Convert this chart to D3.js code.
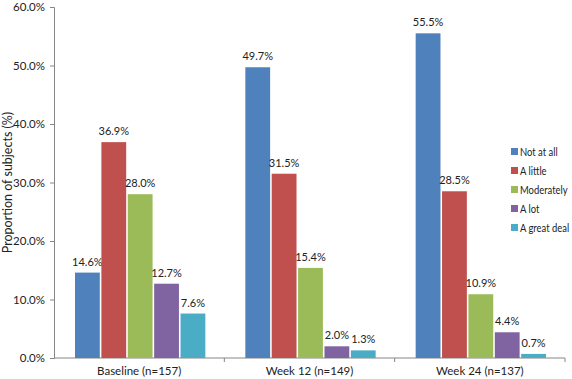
<!DOCTYPE html>
<html>
<head>
<meta charset="utf-8">
<script src="https://cdn.jsdelivr.net/npm/d3@7"></script>
<style>
  body { margin: 0; background: #fff; }
  text { font-family: Lato, "Liberation Sans", sans-serif; fill: #222; }
</style>
</head>
<body>
<script>
const groups = ["Baseline (n=157)", "Week 12 (n=149)", "Week 24 (n=137)"];
const series = ["Not at all", "A little", "Moderately", "A lot", "A great deal"];
const colors = ["#4F81BD", "#C0504D", "#9BBB59", "#8064A2", "#4BACC6"];
const notAtAll = [14.6, 49.7, 55.5];
const aLittle = [36.9, 31.5, 28.5];
const moderately = [28.0, 15.4, 10.9];
const aLot = [12.7, 2.0, 4.4];
const aGreatDeal = [7.6, 1.3, 0.7];
const yTicks = [0, 10, 20, 30, 40, 50, 60];

const values = [notAtAll, aLittle, moderately, aLot, aGreatDeal];

const width = 572, height = 379;
const margin = {left: 54, right: 8, top: 7, bottom: 21};

const svg = d3.select("body").append("svg")
  .attr("width", width)
  .attr("height", height);

const x0 = d3.scaleBand()
  .domain(groups)
  .range([margin.left, 565]);

const x1 = d3.scaleBand()
  .domain(series)
  .range([21, x0.bandwidth() - 19])
  .paddingInner(0.06);

const y = d3.scaleLinear()
  .domain([0, 60])
  .range([height - margin.bottom, margin.top]);

// y axis
const yAxis = d3.axisLeft(y)
  .tickValues(yTicks)
  .tickSize(4)
  .tickFormat((d) => d.toFixed(1) + "%");

const gy = svg.append("g")
  .attr("transform", "translate(" + margin.left + ",0)")
  .call(yAxis);
gy.attr("font-family", null);
gy.select(".domain").attr("stroke", "#868686");
gy.selectAll(".tick line").attr("stroke", "#868686");
gy.selectAll(".tick text").attr("font-size", 11.5).attr("dx", -2);

// x axis
const gx = svg.append("g")
  .attr("transform", "translate(0," + y(0) + ")");
gx.append("line")
  .attr("x1", margin.left).attr("x2", 565)
  .attr("stroke", "#868686");
gx.selectAll(".sep")
  .data(groups)
  .enter().append("line")
  .attr("x1", (d) => x0(d) + x0.bandwidth())
  .attr("x2", (d) => x0(d) + x0.bandwidth())
  .attr("y1", 0).attr("y2", 4)
  .attr("stroke", "#868686");
gx.selectAll(".lab")
  .data(groups)
  .enter().append("text")
  .attr("x", (d) => x0(d) + x0.bandwidth() / 2)
  .attr("y", 17)
  .attr("text-anchor", "middle")
  .attr("font-size", 11.5)
  .text((d) => d);

// bars
series.forEach((s, si) => {
  const g = svg.append("g");
  g.selectAll("rect")
    .data(values[si])
    .enter().append("rect")
    .attr("x", (d, i) => x0(groups[i]) + x1(s))
    .attr("y", (d) => y(d))
    .attr("width", x1.bandwidth())
    .attr("height", (d) => y(0) - y(d))
    .attr("fill", colors[si]);
  g.selectAll("text")
    .data(values[si])
    .enter().append("text")
    .attr("x", (d, i) => x0(groups[i]) + x1(s) + x1.bandwidth() / 2)
    .attr("y", (d) => y(d) - 7)
    .attr("text-anchor", "middle")
    .attr("font-size", 11)
    .text((d) => d.toFixed(1) + "%");
});

// y label
svg.append("text")
  .attr("transform", "translate(12," + ((y(0) + y(60)) / 2) + ") rotate(-90)")
  .attr("text-anchor", "middle")
  .attr("font-size", 12.5)
  .text("Proportion of subjects (%)");

// legend (text squeezed a bit, the original font is narrow)
const legend = svg.append("g").attr("transform", "translate(511,152)");
series.forEach((s, i) => {
  legend.append("rect")
    .attr("x", 0).attr("y", i * 19 - 4)
    .attr("width", 7).attr("height", 7)
    .attr("fill", colors[i]);
  legend.append("text")
    .attr("transform", "translate(9," + (i * 19 + 4) + ") scale(0.82,1)")
    .attr("font-size", 11.5)
    .text(s);
});
</script>
</body>
</html>
